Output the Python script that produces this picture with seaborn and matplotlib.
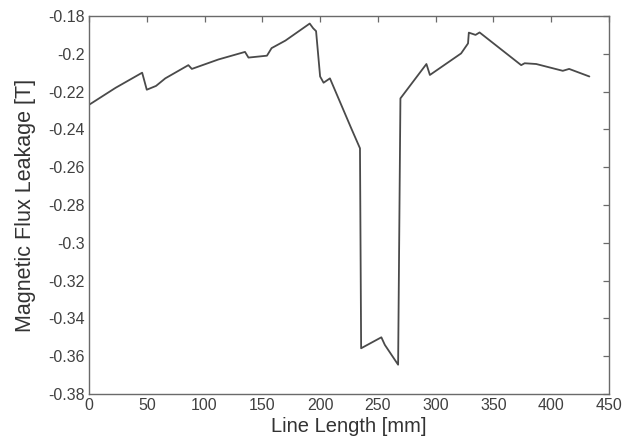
import matplotlib
matplotlib.use("Agg")
import matplotlib.pyplot as plt
import seaborn as sns
import pandas as pd
from matplotlib.ticker import FuncFormatter

line_length_mm = [0, 23, 46, 50, 58, 66, 86, 89, 112, 135, 138, 154, 158, 170,
                  191, 194, 196.5, 200, 203, 208.5, 227, 234.5, 235.5, 253, 256,
                  267.5, 269.5, 292, 295, 322, 328, 328.7, 334.5, 338, 374, 377,
                  387, 410, 415.5, 433]
flux_leakage_T = [-0.227, -0.218, -0.210, -0.219, -0.217, -0.213, -0.206, -0.208,
                  -0.203, -0.199, -0.202, -0.201, -0.197, -0.193, -0.184, -0.1865,
                  -0.188, -0.212, -0.2153, -0.213, -0.2395, -0.250, -0.3558, -0.350,
                  -0.354, -0.3645, -0.2236, -0.2054, -0.2112, -0.1998, -0.1945,
                  -0.1888, -0.190, -0.1887, -0.206, -0.205, -0.2054, -0.209, -0.208,
                  -0.212]
x_ticks = [0, 50, 100, 150, 200, 250, 300, 350, 400, 450]
y_ticks = [-0.38, -0.36, -0.34, -0.32, -0.3, -0.28, -0.26, -0.24, -0.22, -0.2, -0.18]

sns.set_style("white")
plt.rcParams["font.family"] = ["Liberation Sans", "DejaVu Sans"]

df = pd.DataFrame({"x": line_length_mm, "y": flux_leakage_T})

fig = plt.figure(figsize=(6.31, 4.43), dpi=100)
ax = fig.add_axes([89 / 631, 1 - 394 / 443, (609 - 89) / 631, (394 - 16) / 443])
sns.lineplot(data=df, x="x", y="y", ax=ax, color="#4a4a4a", linewidth=1.3,
             sort=False, estimator=None)

ax.set_xlim(0, 450)
ax.set_ylim(-0.38, -0.18)
ax.set_xticks(x_ticks)
ax.set_yticks(y_ticks)
ax.yaxis.set_major_formatter(FuncFormatter(lambda v, p: ("%g" % round(v, 2))))
ax.tick_params(direction="in", top=True, right=True, length=4, width=0.9,
               colors="#6a6a6a", labelcolor="#404040", labelsize=11.5, pad=3)
for s in ax.spines.values():
    s.set_color("#6a6a6a")
    s.set_linewidth(1.0)
ax.set_xlabel("Line Length [mm]", fontsize=14.5, color="#333333", labelpad=3)
ax.set_ylabel("Magnetic Flux Leakage [T]", fontsize=15.5, color="#333333", labelpad=9)

fig.savefig("out.png", dpi=100)
